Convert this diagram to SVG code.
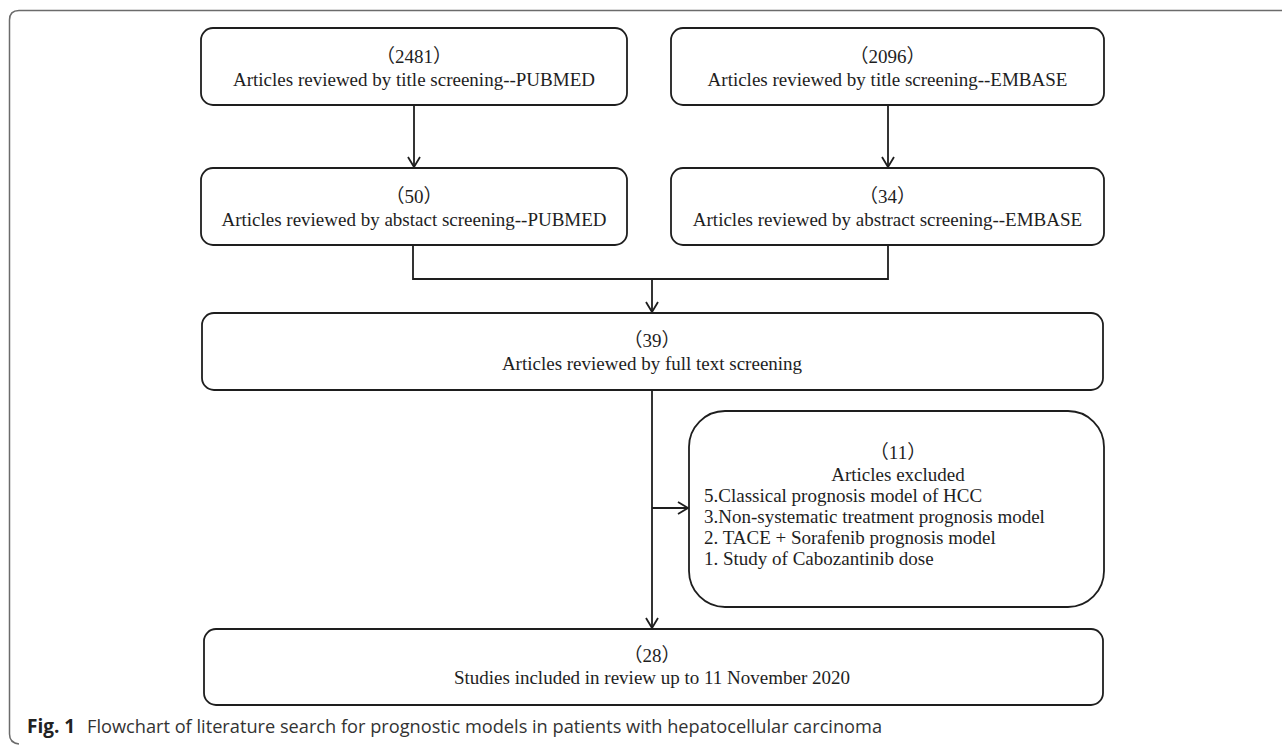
<svg xmlns="http://www.w3.org/2000/svg" width="1282" height="745" viewBox="0 0 1282 745">
<style>
.box{fill:#fff;stroke:#1e1e1e;stroke-width:1.8}
.t{font-family:"Liberation Serif","Noto Sans CJK SC",serif;font-size:19px;fill:#1e1e1e;text-anchor:middle}
.l{text-anchor:start}
.c{stroke:#1e1e1e;stroke-width:1.8;fill:none}
.cap{font-family:"Open Sans","Noto Sans",sans-serif;font-size:19px;fill:#333}
</style>
<defs>
<marker id="arr" markerUnits="userSpaceOnUse" markerWidth="16" markerHeight="16" viewBox="-12 -8 14 16" refX="0" refY="0" orient="auto">
<path d="M-10,-6 L0,0 L-10,6" fill="none" stroke="#1e1e1e" stroke-width="1.8"/>
</marker>
</defs>
<rect width="1282" height="745" fill="#fff"/>
<path d="M1282,10.5 H19 Q9.5,10.5 9.5,20 V734 Q9.5,743 19,744" fill="none" stroke="#6b6b6b" stroke-width="1.5"/>

<g id="connectors">
<path class="c" d="M414,105 V167" marker-end="url(#arr)"/>
<path class="c" d="M888,105 V167" marker-end="url(#arr)"/>
<path class="c" d="M413,245 V279 H888 V245"/>
<path class="c" d="M652,279 V312" marker-end="url(#arr)"/>
<path class="c" d="M652,391 V628" marker-end="url(#arr)"/>
<path class="c" d="M652,508 H688" marker-end="url(#arr)"/>
</g>

<g id="n_pubmed_title">
<rect class="box" x="201" y="28" width="426" height="77" rx="12"/>
<text class="t" x="414" y="63">（2481）</text>
<text class="t" x="414" y="86">Articles reviewed by title screening--PUBMED</text>
</g>
<g id="n_embase_title">
<rect class="box" x="671" y="28" width="433" height="77" rx="12"/>
<text class="t" x="887.5" y="63">（2096）</text>
<text class="t" x="887.5" y="86">Articles reviewed by title screening--EMBASE</text>
</g>
<g id="n_pubmed_abs">
<rect class="box" x="201" y="168" width="426" height="77" rx="12"/>
<text class="t" x="414" y="203">（50）</text>
<text class="t" x="414" y="226">Articles reviewed by abstact screening--PUBMED</text>
</g>
<g id="n_embase_abs">
<rect class="box" x="671" y="168" width="433" height="77" rx="12"/>
<text class="t" x="887.5" y="203">（34）</text>
<text class="t" x="887.5" y="226">Articles reviewed by abstract screening--EMBASE</text>
</g>
<g id="n_fulltext">
<rect class="box" x="202" y="313" width="901" height="77" rx="12"/>
<text class="t" x="652" y="347">（39）</text>
<text class="t" x="652" y="370">Articles reviewed by full text screening</text>
</g>
<g id="n_excluded">
<rect class="box" x="689" y="411" width="415" height="196" rx="36"/>
<text class="t" x="898" y="459">（11）</text>
<text class="t" x="898" y="481">Articles excluded</text>
<text class="t l" x="704" y="502">5.Classical prognosis model of HCC</text>
<text class="t l" x="704" y="523">3.Non-systematic treatment prognosis model</text>
<text class="t l" x="704" y="544">2. TACE + Sorafenib prognosis model</text>
<text class="t l" x="704" y="565">1. Study of Cabozantinib dose</text>
</g>
<g id="n_included">
<rect class="box" x="204" y="629" width="899" height="76" rx="12"/>
<text class="t" x="652" y="662">（28）</text>
<text class="t" x="652" y="684">Studies included in review up to 11 November 2020</text>
</g>
<text class="cap" x="27" y="733"><tspan font-weight="bold" fill="#222">Fig. 1</tspan><tspan x="87" textLength="795" lengthAdjust="spacingAndGlyphs">Flowchart of literature search for prognostic models in patients with hepatocellular carcinoma</tspan></text>
</svg>
